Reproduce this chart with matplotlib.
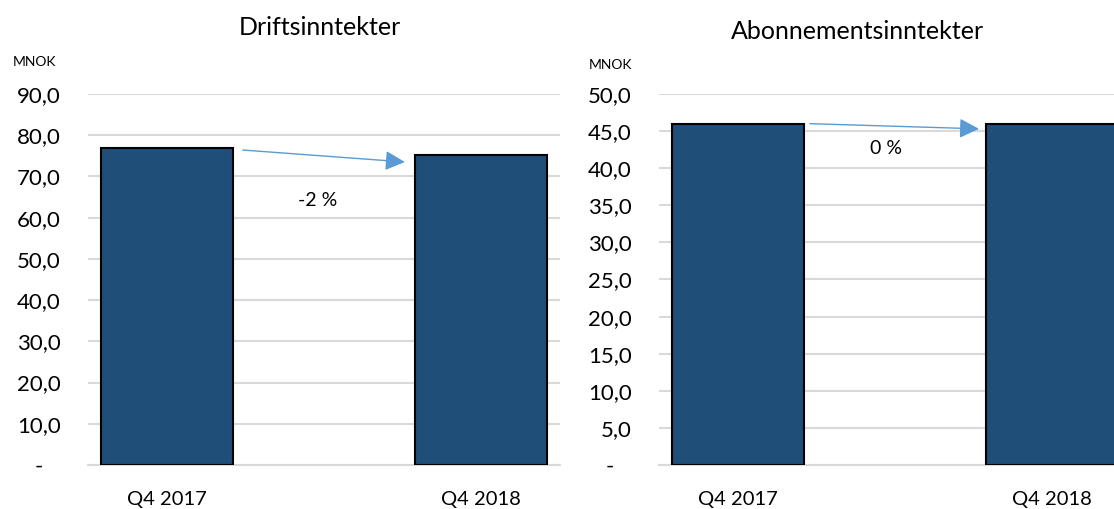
import matplotlib.pyplot as plt
import matplotlib.ticker as mticker

# Colours
barblue   = "#1f4e79"
arrowblue = "#5b9bd5"
gridgrey  = "#d9d9d9"

# Data
quarters      = ["Q4 2017", "Q4 2018"]
drift_values  = [76.8, 75.2]
abo_values    = [45.9, 46.0]
drift_change  = "-2 %"
abo_change    = "0 %"
drift_ticks   = [0, 10, 20, 30, 40, 50, 60, 70, 80, 90]
abo_ticks     = [0, 5, 10, 15, 20, 25, 30, 35, 40, 45, 50]

plt.rcParams["font.family"] = ["Lato", "DejaVu Sans"]


def fmt_tick(v, pos):
    # Excel accounting style: dash for zero, comma decimal
    if v == 0:
        return "-   "
    return f"{v:.1f}".replace(".", ",")


def panel(ax, values, ticks, change, arrow_xy, label_xy):
    x = range(len(quarters))
    ax.bar(x, values,
           width     = 0.42,
           color     = barblue,
           edgecolor = "black",
           linewidth = 1.5,
           zorder    = 3)

    ax.set_xlim(-0.25, 1.25)
    ax.set_ylim(0, ticks[-1])
    ax.set_yticks(ticks)
    ax.yaxis.set_major_formatter(mticker.FuncFormatter(fmt_tick))
    ax.set_xticks(list(x))
    ax.set_xticklabels(quarters)
    ax.tick_params(axis="both", length=0)
    ax.tick_params(axis="x", pad=19, labelsize=14.5)
    ax.tick_params(axis="y", pad=19.5, labelsize=16)

    ax.grid(axis="y", color=gridgrey, lw=1.5, zorder=0)
    for side in ["top", "right", "left"]:
        ax.spines[side].set_visible(False)
    ax.spines["bottom"].set_color(gridgrey)
    ax.spines["bottom"].set_linewidth(1.5)

    # Change arrow + label
    (x0, y0), (x1, y1) = arrow_xy
    ax.annotate("", xy=(x1, y1), xytext=(x0, y0),
                arrowprops=dict(arrowstyle="-|>", color=arrowblue,
                                lw=1, mutation_scale=30,
                                shrinkA=0, shrinkB=0),
                zorder=5)
    ax.text(label_xy[0], label_xy[1], change,
            ha="center", va="center", fontsize=14, zorder=5)


fig = plt.figure(figsize=(11.14, 5.09), dpi=100)

ax1 = fig.add_axes([88 / 1114, 0.0864, 0.4237, 0.729])
panel(ax1, drift_values, drift_ticks, drift_change,
      ((0.242, 76.4), (0.757, 73.5)), (0.48, 64.1))
fig.text(320 / 1114, 1 - 35 / 509, "Driftsinntekter",
         ha="center", va="baseline", fontsize=18)
fig.text(13 / 1114, 1 - 62 / 509, "MNOK",
         ha="left", va="center", fontsize=10)

ax2 = fig.add_axes([659 / 1114, 0.0864, 0.4237, 0.729])
panel(ax2, abo_values, abo_ticks, abo_change,
      ((0.23, 46.0), (0.767, 45.3)), (0.471, 42.7))
fig.text(857 / 1114, 1 - 39 / 509, "Abonnementsinntekter",
         ha="center", va="baseline", fontsize=18)
fig.text(589 / 1114, 1 - 65 / 509, "MNOK",
         ha="left", va="center", fontsize=10)

fig.savefig("out.png", dpi=100)
